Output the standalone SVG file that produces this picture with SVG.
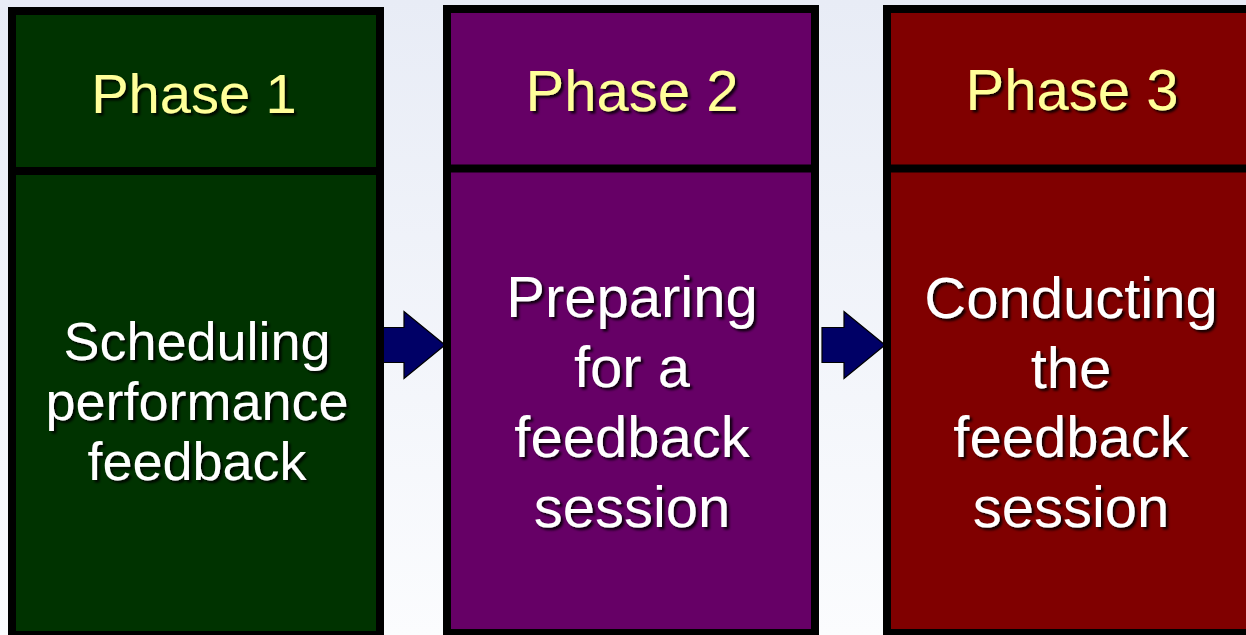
<svg xmlns="http://www.w3.org/2000/svg" width="1246" height="635" viewBox="0 0 1246 635">
  <defs>
    <linearGradient id="bg" x1="0" y1="0" x2="0" y2="1">
      <stop offset="0" stop-color="#E8ECF6"/>
      <stop offset="1" stop-color="#FBFCFE"/>
    </linearGradient>
    <filter id="shadow" x="-10%" y="-20%" width="130%" height="150%">
      <feDropShadow dx="2.5" dy="2.5" stdDeviation="1" flood-color="#000000" flood-opacity="0.85"/>
    </filter>
  </defs>
  <style>
    .frame { stroke: #000000; stroke-width: 8; }
    .divider { stroke: #000000; stroke-width: 8; }
    .green { fill: #003300; }
    .purple { fill: #660066; }
    .red { fill: #800000; }
    text { font-family: "Liberation Sans", Arial, sans-serif; text-anchor: middle; filter: url(#shadow); }
    .title { fill: #FFFF99; }
    .body { fill: #FFFFFF; }
    .arrow { fill: #000066; stroke: #000000; stroke-width: 1.2; stroke-linejoin: miter; }
  </style>

  <rect width="1246" height="635" fill="url(#bg)"/>

  <!-- connectors between the phases -->
  <g id="connectors">
    <polygon class="arrow" points="382,327.5 404,327.5 404,311.5 445,345 404,378.5 404,362.5 382,362.5"/>
    <polygon class="arrow" points="822,327.5 844,327.5 844,311.5 885,345 844,378.5 844,362.5 822,362.5"/>
  </g>

  <g id="phase1">
    <rect class="frame green" x="12" y="11" width="368" height="624"/>
    <line class="divider" x1="12" y1="171" x2="380" y2="171"/>
    <text class="title" font-size="56" x="194" y="113">Phase 1</text>
    <text class="body" font-size="54" x="197" y="360">Scheduling</text>
    <text class="body" font-size="54" x="197" y="420">performance</text>
    <text class="body" font-size="54" x="197" y="480">feedback</text>
  </g>

  <g id="phase2">
    <rect class="frame purple" x="447" y="9" width="368" height="624"/>
    <line class="divider" x1="447" y1="168.5" x2="815" y2="168.5"/>
    <text class="title" font-size="58" x="632" y="111">Phase 2</text>
    <text class="body" font-size="58" x="632" y="317">Preparing</text>
    <text class="body" font-size="58" x="632" y="387">for a</text>
    <text class="body" font-size="58" x="632" y="457">feedback</text>
    <text class="body" font-size="58" x="632" y="527">session</text>
  </g>

  <g id="phase3">
    <rect class="frame red" x="887" y="9" width="380" height="624"/>
    <line class="divider" x1="887" y1="168.5" x2="1267" y2="168.5"/>
    <text class="title" font-size="58" x="1072" y="110">Phase 3</text>
    <text class="body" font-size="58" x="1071" y="318">Conducting</text>
    <text class="body" font-size="58" x="1071" y="388">the</text>
    <text class="body" font-size="58" x="1071" y="457">feedback</text>
    <text class="body" font-size="58" x="1071" y="527">session</text>
  </g>
</svg>
